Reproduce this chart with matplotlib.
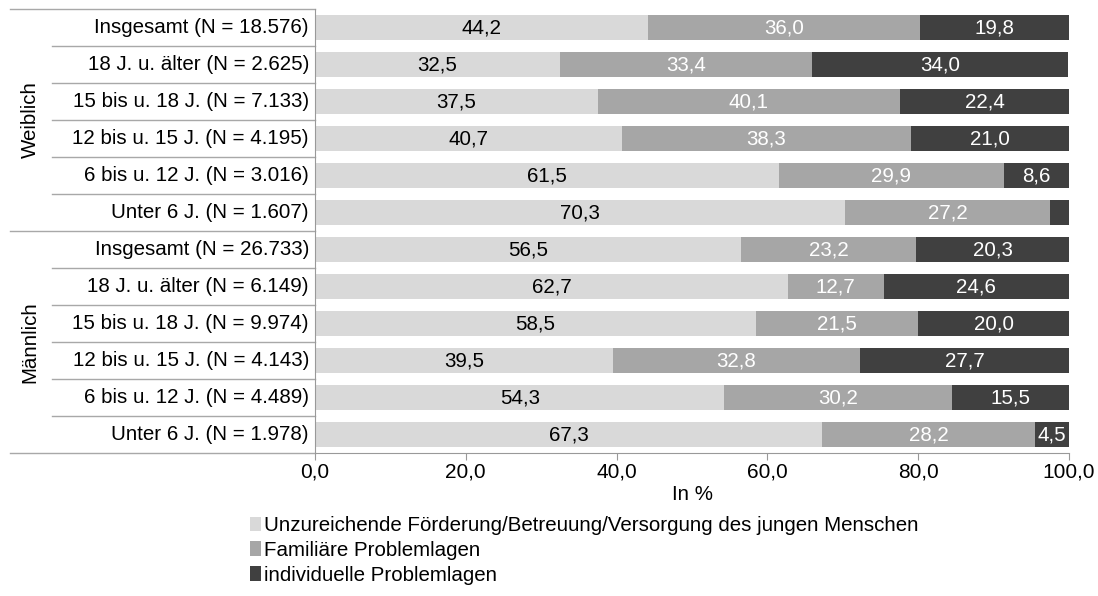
import matplotlib.pyplot as plt
import numpy as np
from matplotlib.patches import Patch

plt.rcParams['font.family'] = ['Liberation Sans', 'DejaVu Sans']

categories = ['Insgesamt (N = 18.576)', '18 J. u. älter (N = 2.625)', '15 bis u. 18 J. (N = 7.133)',
              '12 bis u. 15 J. (N = 4.195)', '6 bis u. 12 J. (N = 3.016)', 'Unter 6 J. (N = 1.607)',
              'Insgesamt (N = 26.733)', '18 J. u. älter (N = 6.149)', '15 bis u. 18 J. (N = 9.974)',
              '12 bis u. 15 J. (N = 4.143)', '6 bis u. 12 J. (N = 4.489)', 'Unter 6 J. (N = 1.978)']
groups = ['Weiblich', 'Männlich']
foerderung = [44.2, 32.5, 37.5, 40.7, 61.5, 70.3, 56.5, 62.7, 58.5, 39.5, 54.3, 67.3]
familiaer = [36.0, 33.4, 40.1, 38.3, 29.9, 27.2, 23.2, 12.7, 21.5, 32.8, 30.2, 28.2]
individuell = [19.8, 34.0, 22.4, 21.0, 8.6, 2.5, 20.3, 24.6, 20.0, 27.7, 15.5, 4.5]
series_names = ['Unzureichende Förderung/Betreuung/Versorgung des jungen Menschen',
                'Familiäre Problemlagen', 'individuelle Problemlagen']
colors = ['#d9d9d9', '#a6a6a6', '#404040']
text_colors = ['black', 'white', 'white']
ticks = [0, 20, 40, 60, 80, 100]

fs = 14.8
fig = plt.figure(figsize=(10.98, 5.96), dpi=100)
ax = fig.add_axes([315 / 1098, 1 - 453 / 596, 754 / 1098, 444 / 596])

y = np.arange(len(categories))
left = np.zeros(len(categories))
for vals, col, tc in zip([foerderung, familiaer, individuell], colors, text_colors):
    vals = np.array(vals)
    ax.barh(y, vals, left=left, height=0.65, color=col, linewidth=0)
    for yi, l, v in zip(y, left, vals):
        if v >= 4:
            ax.text(l + v / 2, yi, f'{v:.1f}'.replace('.', ','), ha='center', va='center',
                    color=tc, fontsize=fs)
    left += vals

ax.set_xlim(0, 100)
ax.set_ylim(len(categories) - 0.5, -0.5)
ax.set_xticks(ticks)
ax.set_xticklabels([f'{t:.1f}'.replace('.', ',') for t in ticks], fontsize=15)
ax.tick_params(axis='x', length=5, color='#999999', pad=2)
ax.set_yticks([])
for s in ['top', 'right']:
    ax.spines[s].set_visible(False)
ax.spines['left'].set_color('#999999')
ax.spines['bottom'].set_color('#999999')
ax.set_xlabel('In %', fontsize=fs, labelpad=2)

# category table on the left
tr = ax.get_yaxis_transform()
x_cat = -(315 - 52) / 754
x_grp = -(315 - 10) / 754
for i, c in enumerate(categories):
    ax.text(-0.008, i, c, transform=tr, ha='right', va='center', fontsize=fs)
for i in range(1, len(categories)):
    x0 = x_grp if i % 6 == 0 else x_cat
    ax.plot([x0, 0], [i - 0.5, i - 0.5], transform=tr, color='#a8a8a8', lw=1, clip_on=False)
for yb in [-0.5, len(categories) - 0.5]:
    ax.plot([x_grp, 0], [yb, yb], transform=tr, color='#a8a8a8', lw=1, clip_on=False)
for g, name in enumerate(groups):
    ax.text(-(315 - 30) / 754, g * 6 + 2.5, name, transform=tr, rotation=90,
            ha='center', va='center', fontsize=fs)

handles = [Patch(facecolor=c, edgecolor='none') for c in colors]
fig.legend(handles, series_names, loc='upper left', bbox_to_anchor=(250 / 1098, 1 - 516 / 596),
           frameon=False, fontsize=fs, handlelength=0.55, handleheight=0.7, handletextpad=0.15,
           labelspacing=0.28, borderaxespad=0, borderpad=0)

fig.savefig('out.png', dpi=100, facecolor='white')
